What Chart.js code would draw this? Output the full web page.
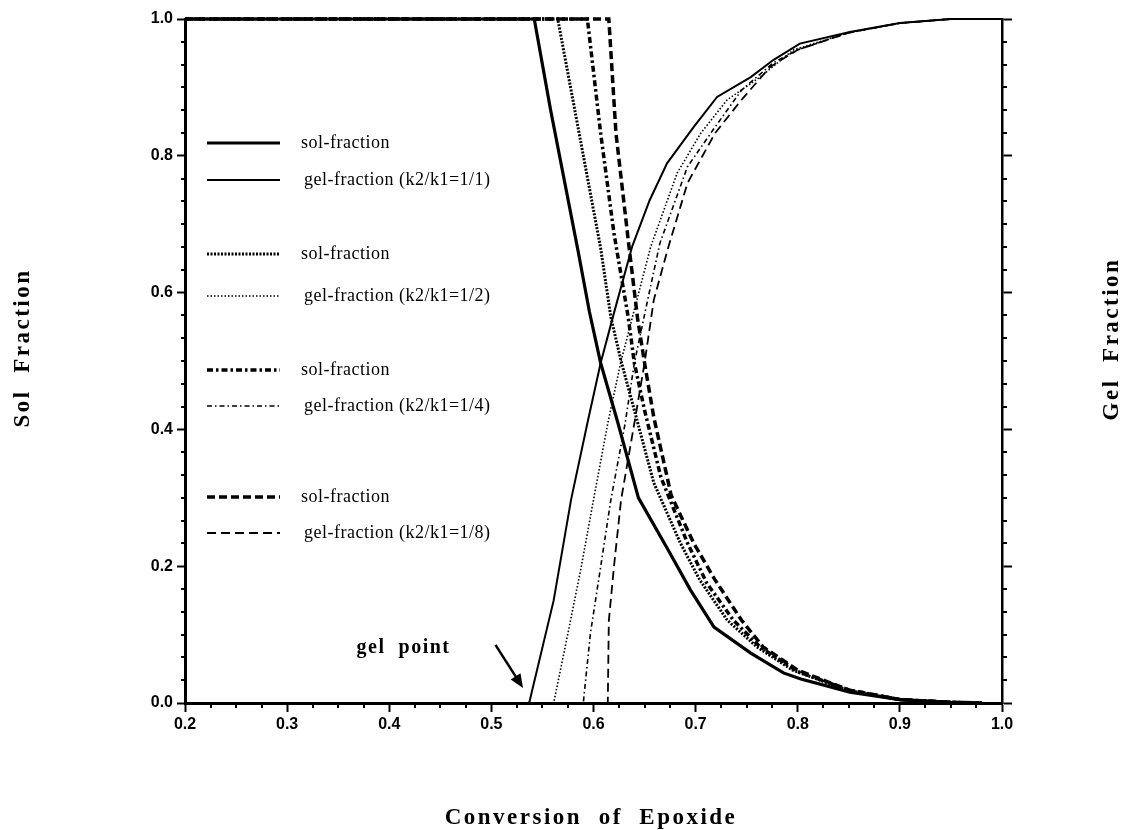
<!DOCTYPE html>
<html lang="en">
<head>
<meta charset="UTF-8">
<title>Sol and Gel Fraction vs Conversion of Epoxide</title>
<script src="https://cdn.jsdelivr.net/npm/chart.js"></script>
<style>
  body { margin: 0; background: #ffffff; }
  canvas { display: block; }
</style>
</head>
<body>
<canvas id="fractionChart" width="1128" height="830"></canvas>
<script>
// k2/k1 = 1/1
const sol1x = [0.2, 0.542, 0.558, 0.585, 0.596, 0.607, 0.624, 0.644, 0.673, 0.695, 0.718, 0.754, 0.786, 0.803, 0.851, 0.9, 0.95, 0.98];
const sol1y = [1.0, 1.0, 0.867, 0.660, 0.572, 0.497, 0.409, 0.300, 0.224, 0.165, 0.111, 0.073, 0.044, 0.035, 0.016, 0.005, 0.001, 0.0];
const gel1x = [0.2, 0.537, 0.561, 0.578, 0.594, 0.607, 0.620, 0.638, 0.655, 0.672, 0.698, 0.721, 0.754, 0.776, 0.802, 0.851, 0.9, 0.95, 1.0];
const gel1y = [0.0, 0.0, 0.150, 0.297, 0.409, 0.497, 0.570, 0.668, 0.735, 0.789, 0.842, 0.886, 0.915, 0.940, 0.964, 0.981, 0.994, 1.0, 1.0];

// k2/k1 = 1/2
const sol2x = [0.2, 0.565, 0.607, 0.617, 0.627, 0.640, 0.659, 0.685, 0.704, 0.731, 0.760, 0.795, 0.850, 0.9, 0.95, 0.98];
const sol2y = [1.0, 1.0, 0.665, 0.564, 0.500, 0.428, 0.322, 0.234, 0.180, 0.121, 0.082, 0.048, 0.018, 0.005, 0.001, 0.0];
const gel2x = [0.2, 0.561, 0.575, 0.588, 0.600, 0.614, 0.627, 0.640, 0.656, 0.682, 0.705, 0.731, 0.763, 0.796, 0.850, 0.9, 0.95, 1.0];
const gel2y = [0.0, 0.0, 0.102, 0.199, 0.297, 0.409, 0.500, 0.575, 0.667, 0.775, 0.833, 0.882, 0.915, 0.955, 0.980, 0.994, 1.0, 1.0];

// k2/k1 = 1/4
const sol4x = [0.2, 0.594, 0.607, 0.620, 0.634, 0.640, 0.650, 0.666, 0.692, 0.711, 0.737, 0.763, 0.800, 0.850, 0.9, 0.95, 0.98];
const sol4y = [1.0, 1.0, 0.833, 0.687, 0.564, 0.497, 0.428, 0.330, 0.234, 0.175, 0.121, 0.082, 0.046, 0.019, 0.005, 0.001, 0.0];
const gel4x = [0.2, 0.590, 0.597, 0.607, 0.617, 0.631, 0.640, 0.653, 0.665, 0.692, 0.719, 0.745, 0.776, 0.800, 0.850, 0.9, 0.95, 1.0];
const gel4y = [0.0, 0.0, 0.102, 0.199, 0.297, 0.409, 0.497, 0.589, 0.672, 0.784, 0.842, 0.896, 0.936, 0.955, 0.980, 0.994, 1.0, 1.0];

// k2/k1 = 1/8
const sol8x = [0.2, 0.615, 0.622, 0.634, 0.643, 0.650, 0.659, 0.676, 0.698, 0.719, 0.745, 0.766, 0.800, 0.850, 0.9, 0.95, 0.98];
const sol8y = [1.0, 1.0, 0.833, 0.677, 0.564, 0.497, 0.418, 0.304, 0.234, 0.180, 0.121, 0.082, 0.048, 0.019, 0.005, 0.001, 0.0];
const gel8x = [0.2, 0.614, 0.615, 0.620, 0.627, 0.640, 0.650, 0.659, 0.673, 0.692, 0.719, 0.745, 0.773, 0.800, 0.850, 0.9, 0.95, 1.0];
const gel8y = [0.0, 0.0, 0.120, 0.199, 0.297, 0.409, 0.497, 0.589, 0.665, 0.760, 0.833, 0.882, 0.930, 0.955, 0.980, 0.994, 1.0, 1.0];

const ratios = ['1/1', '1/2', '1/4', '1/8'];
const xTickValues = [0.2, 0.3, 0.4, 0.5, 0.6, 0.7, 0.8, 0.9, 1.0];
const yTickValues = [0.0, 0.2, 0.4, 0.6, 0.8, 1.0];

// "gel point" note and its arrow, in data units
const gelNote = { x: 0.414, y: 0.08, text: 'gel  point' };
const gelArrow = { fromX: 0.504, fromY: 0.085, toX: 0.531, toY: 0.022 };

const SERIF = '"Liberation Serif", "DejaVu Serif", serif';
const SANS = '"Liberation Sans", Arial, sans-serif';

function pts(xs, ys) {
  return xs.map((x, i) => ({ x: x, y: ys[i] }));
}

function line(label, data, width, dash) {
  return {
    label: label,
    data: data,
    borderColor: '#000',
    borderWidth: width,
    borderDash: dash,
    pointRadius: 0,
    fill: false,
    tension: 0,
    clip: false
  };
}

const datasets = [
  line('sol-fraction', pts(sol1x, sol1y), 3.2, []),
  line('gel-fraction (k2/k1=' + ratios[0] + ')', pts(gel1x, gel1y), 2, []),
  line('sol-fraction', pts(sol2x, sol2y), 3, [2, 1.5]),
  line('gel-fraction (k2/k1=' + ratios[1] + ')', pts(gel2x, gel2y), 1.6, [1.5, 2]),
  line('sol-fraction', pts(sol4x, sol4y), 3.5, [6, 3, 2.5, 3]),
  line('gel-fraction (k2/k1=' + ratios[2] + ')', pts(gel4x, gel4y), 1.6, [5, 3, 1.5, 3]),
  line('sol-fraction', pts(sol8x, sol8y), 3.5, [8, 4]),
  line('gel-fraction (k2/k1=' + ratios[3] + ')', pts(gel8x, gel8y), 1.8, [9, 5])
];

// legend sits inside the plot, grouped in pairs
const inlineLegend = {
  id: 'inlineLegend',
  afterDatasetsDraw(chart) {
    const ctx = chart.ctx;
    const rows = [143, 180, 254, 296, 370, 406, 497, 533];
    ctx.save();
    ctx.font = '18px ' + SERIF;
    ctx.letterSpacing = '0.5px';
    ctx.textBaseline = 'middle';
    ctx.fillStyle = '#000';
    ctx.strokeStyle = '#000';
    chart.data.datasets.forEach((ds, i) => {
      const y = rows[i];
      ctx.beginPath();
      ctx.setLineDash(ds.borderDash);
      ctx.lineWidth = ds.borderWidth;
      ctx.moveTo(207, y);
      ctx.lineTo(280, y);
      ctx.stroke();
      ctx.fillText(ds.label, i % 2 ? 304 : 301, y);
    });
    ctx.restore();
  }
};

// short minor ticks between the labelled ones
const minorTicks = {
  id: 'minorTicks',
  afterDraw(chart) {
    const ctx = chart.ctx;
    const x = chart.scales.x, y = chart.scales.y;
    const a = chart.chartArea;
    ctx.save();
    ctx.strokeStyle = '#000';
    ctx.lineWidth = 2;
    ctx.beginPath();
    for (let i = 0; i <= 32; i++) {
      if (i % 4 === 0) continue;
      const px = Math.round(x.getPixelForValue(0.2 + i * 0.025));
      ctx.moveTo(px, a.bottom);
      ctx.lineTo(px, a.bottom + 5);
    }
    for (let i = 0; i <= 30; i++) {
      if (i % 6 === 0) continue;
      const py = Math.round(y.getPixelForValue(i / 30));
      ctx.moveTo(a.left, py);
      ctx.lineTo(a.left - 4, py);
      ctx.moveTo(a.right, py);
      ctx.lineTo(a.right + 5, py);
    }
    ctx.stroke();
    ctx.restore();
  }
};

// axis titles (letter-spaced) and the gel point note
const titles = {
  id: 'titles',
  afterDraw(chart) {
    const ctx = chart.ctx;
    const x = chart.scales.x, y = chart.scales.y;
    ctx.save();
    ctx.fillStyle = '#000';
    ctx.textAlign = 'center';
    ctx.textBaseline = 'middle';
    ctx.font = 'bold 23px ' + SERIF;
    ctx.letterSpacing = '2.5px';
    ctx.fillText('Conversion  of  Epoxide', 591, 818);

    ctx.save();
    ctx.translate(23, 348);
    ctx.rotate(-Math.PI / 2);
    ctx.fillText('Sol  Fraction', 0, 0);
    ctx.restore();

    ctx.save();
    ctx.translate(1112, 339);
    ctx.rotate(-Math.PI / 2);
    ctx.fillText('Gel  Fraction', 0, 0);
    ctx.restore();

    ctx.font = 'bold 20px ' + SERIF;
    ctx.letterSpacing = '1.5px';
    ctx.fillText(gelNote.text, x.getPixelForValue(gelNote.x), y.getPixelForValue(gelNote.y));
    ctx.letterSpacing = '0px';

    const x0 = x.getPixelForValue(gelArrow.fromX), y0 = y.getPixelForValue(gelArrow.fromY);
    const x1 = x.getPixelForValue(gelArrow.toX), y1 = y.getPixelForValue(gelArrow.toY);
    const ang = Math.atan2(y1 - y0, x1 - x0);
    const head = 15;
    ctx.strokeStyle = '#000';
    ctx.lineWidth = 2.5;
    ctx.beginPath();
    ctx.moveTo(x0, y0);
    ctx.lineTo(x1 - head * 0.7 * Math.cos(ang), y1 - head * 0.7 * Math.sin(ang));
    ctx.stroke();
    ctx.beginPath();
    ctx.moveTo(x1, y1);
    ctx.lineTo(x1 - head * Math.cos(ang - 0.4), y1 - head * Math.sin(ang - 0.4));
    ctx.lineTo(x1 - head * Math.cos(ang + 0.4), y1 - head * Math.sin(ang + 0.4));
    ctx.closePath();
    ctx.fill();
    ctx.restore();
  }
};

const tickFont = { family: SANS, size: 16, weight: 'bold' };
const axisGrid = { drawOnChartArea: false, color: '#000', tickColor: '#000', tickLength: 8, tickWidth: 2 };

new Chart(document.getElementById('fractionChart'), {
  type: 'line',
  data: { datasets: datasets },
  options: {
    responsive: false,
    animation: false,
    layout: { padding: { top: 19, right: 0, bottom: 0, left: 0 } },
    plugins: {
      legend: { display: false },
      tooltip: { enabled: false }
    },
    scales: {
      x: {
        type: 'linear',
        position: 'bottom',
        min: 0.2,
        max: 1.0,
        afterBuildTicks: s => { s.ticks = xTickValues.map(v => ({ value: v })); },
        afterFit: s => { s.height = 127; },
        ticks: { font: tickFont, color: '#000', padding: 3, maxRotation: 0, autoSkip: false, callback: v => v.toFixed(1) },
        grid: Object.assign({}, axisGrid, { tickLength: 9 }),
        border: { color: '#000', width: 3 }
      },
      y: {
        type: 'linear',
        position: 'left',
        min: 0,
        max: 1,
        afterBuildTicks: s => { s.ticks = yTickValues.map(v => ({ value: v })); },
        afterFit: s => { s.width = 185; },
        ticks: { font: tickFont, color: '#000', padding: 4, callback: v => v.toFixed(1) },
        grid: axisGrid,
        border: { color: '#000', width: 3 }
      },
      y2: {
        type: 'linear',
        position: 'right',
        min: 0,
        max: 1,
        afterBuildTicks: s => { s.ticks = yTickValues.map(v => ({ value: v })); },
        afterFit: s => { s.width = 126; },
        ticks: { display: false },
        grid: Object.assign({}, axisGrid, { tickLength: 10 }),
        border: { color: '#000', width: 2.5 }
      }
    }
  },
  plugins: [inlineLegend, minorTicks, titles]
});
</script>
</body>
</html>
